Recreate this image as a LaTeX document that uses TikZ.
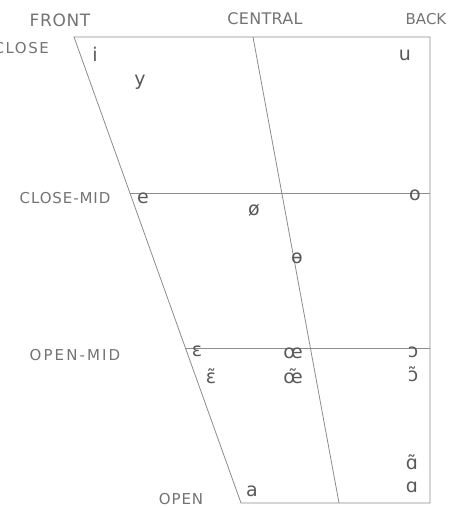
\documentclass[tikz,border=0pt]{standalone}
\usepackage{fontspec}
\setmainfont{DejaVu Sans}
\begin{document}
\begin{tikzpicture}[x=1pt,y=-1pt,
  chart/.style={draw=black!45, line width=0.8pt},
  lab/.style={text=black!55, inner sep=0pt},
  vow/.style={text=black!65, font=\fontsize{19}{19}\selectfont, inner sep=0pt}]
\useasboundingbox (0,0) rectangle (458,508);
% chart corners
\coordinate (tl) at (74,37);
\coordinate (tr) at (430,37);
\coordinate (br) at (430,503);
\coordinate (bl) at (241,503);
\coordinate (tc) at (253,37);
\coordinate (bc) at (339,503);
\coordinate (cml) at (130,193);
\coordinate (cmr) at (430,193);
\coordinate (oml) at (185,348);
\coordinate (omr) at (430,348);
\draw[chart] (tl) -- (tr) -- (br) -- (bl) -- cycle;
\draw[chart] (tc) -- (bc);
\draw[chart] (cml) -- (cmr);
\draw[chart] (oml) -- (omr);
% labels
\node[lab, font=\addfontfeature{LetterSpace=4}\fontsize{17}{17}\selectfont] (front) at (60,20) {FRONT};
\node[lab, font=\addfontfeature{LetterSpace=2}\fontsize{16}{16}\selectfont] (central) at (265,19) {CENTRAL};
\node[lab, font=\fontsize{15}{15}\selectfont] (back) at (426,19) {BACK};
\node[lab, anchor=east, font=\addfontfeature{LetterSpace=10}\fontsize{15}{15}\selectfont] (close) at (49,48) {CLOSE};
\node[lab, font=\addfontfeature{LetterSpace=6}\fontsize{15}{15}\selectfont] (closemid) at (65,198) {CLOSE-MID};
\node[lab, font=\addfontfeature{LetterSpace=14}\fontsize{15}{15}\selectfont] (openmid) at (75,355) {OPEN-MID};
\node[lab, font=\addfontfeature{LetterSpace=6}\fontsize{15}{15}\selectfont] (open) at (181,499) {OPEN};
% vowels
\node[vow] (i) at (95,54) {i};
\node[vow] (y) at (140,82) {y};
\node[vow] (u) at (405,55) {u};
\node[vow] (e) at (143,198) {e};
\node[vow] (oslash) at (254,210) {ø};
\node[vow] (o) at (415,195) {o};
\node[vow] (barred) at (297,258) {ɵ};
\node[vow] (eps) at (197,351) {ɛ};
\node[vow] (epst) at (211,376) {ɛ̃};
\node[vow] (oe) at (293,353) {œ};
\node[vow] (oet) at (293,376) {œ̃};
\node[vow] (openo) at (413,352) {ɔ};
\node[vow] (openot) at (413,374) {ɔ̃};
\node[vow] (alphat) at (412,462) {ɑ̃};
\node[vow] (alpha) at (412,487) {ɑ};
\node[vow] (a) at (252,491) {a};
\end{tikzpicture}
\end{document}
